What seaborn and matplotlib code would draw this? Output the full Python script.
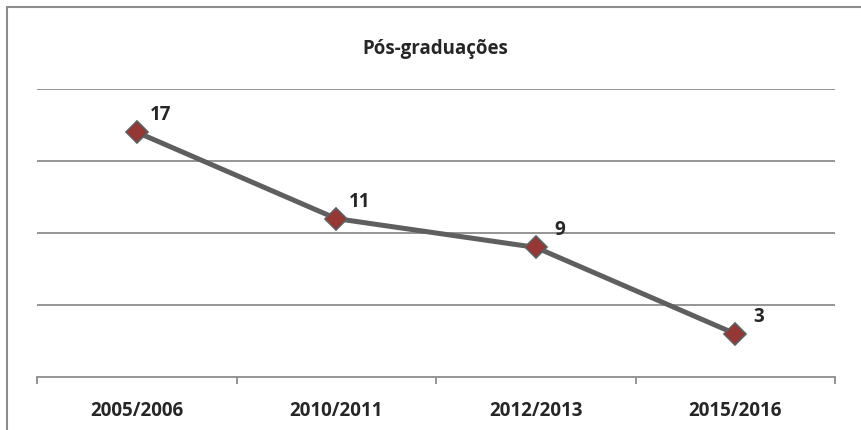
import pandas as pd
import matplotlib.pyplot as plt
import seaborn as sns
from matplotlib.patches import Rectangle

anos = ["2005/2006", "2010/2011", "2012/2013", "2015/2016"]
pos_graduacoes = [17, 11, 9, 3]

df = pd.DataFrame({"Ano": anos, "Total": pos_graduacoes})

sns.set_style("white")
plt.rcParams["font.family"] = ["Open Sans", "DejaVu Sans"]

fig = plt.figure(figsize=(8.61, 4.31), dpi=100)
ax = fig.add_axes([37 / 861, 1 - 378 / 431, (835 - 37) / 861, (378 - 90) / 431])

# outer chart frame (only top and left visible in the original crop)
fig.patches.append(Rectangle((7 / 861, -0.1), 1.2, (431 - 8) / 431 + 0.1,
                             transform=fig.transFigure, fill=False,
                             edgecolor="#8c8c8c", linewidth=1.5))

sns.lineplot(data=df, x="Ano", y="Total", ax=ax, color="#5f5f5f", linewidth=3.6,
             marker="D", markersize=11, markerfacecolor="#953735",
             markeredgecolor="#5f5f5f", markeredgewidth=1.2, sort=False)

for i, v in enumerate(pos_graduacoes):
    ax.annotate(str(v), (i, v), xytext=(17, 13), textcoords="offset points",
                ha="center", va="center", fontsize=13.5, fontweight="bold")

ax.set_xlim(-0.5, 3.5)
ax.set_ylim(0, 20)
ax.set_yticks([5, 10, 15, 20])
ax.yaxis.grid(True, color="#8c8c8c", linewidth=1.3)
ax.set_yticklabels([])
ax.tick_params(axis="y", length=0)

ax.set_xticks(range(len(anos)))
ax.set_xticklabels(anos, fontsize=13.5, fontweight="bold")
ax.set_xticks([-0.5, 0.5, 1.5, 2.5, 3.5], minor=True)
ax.tick_params(axis="x", which="major", bottom=False, pad=13)
ax.tick_params(axis="x", which="minor", bottom=True, length=5, width=1.3,
               color="#8c8c8c", direction="out")

for s in ["top", "right", "left"]:
    ax.spines[s].set_visible(False)
ax.spines["bottom"].set_color("#8c8c8c")
ax.spines["bottom"].set_linewidth(1.3)
ax.set_xlabel("")
ax.set_ylabel("")

fig.text(435 / 861, 1 - 49 / 431, "Pós-graduações", ha="center", va="center",
         fontsize=13.5, fontweight="bold")

fig.savefig("out.png", dpi=100)
